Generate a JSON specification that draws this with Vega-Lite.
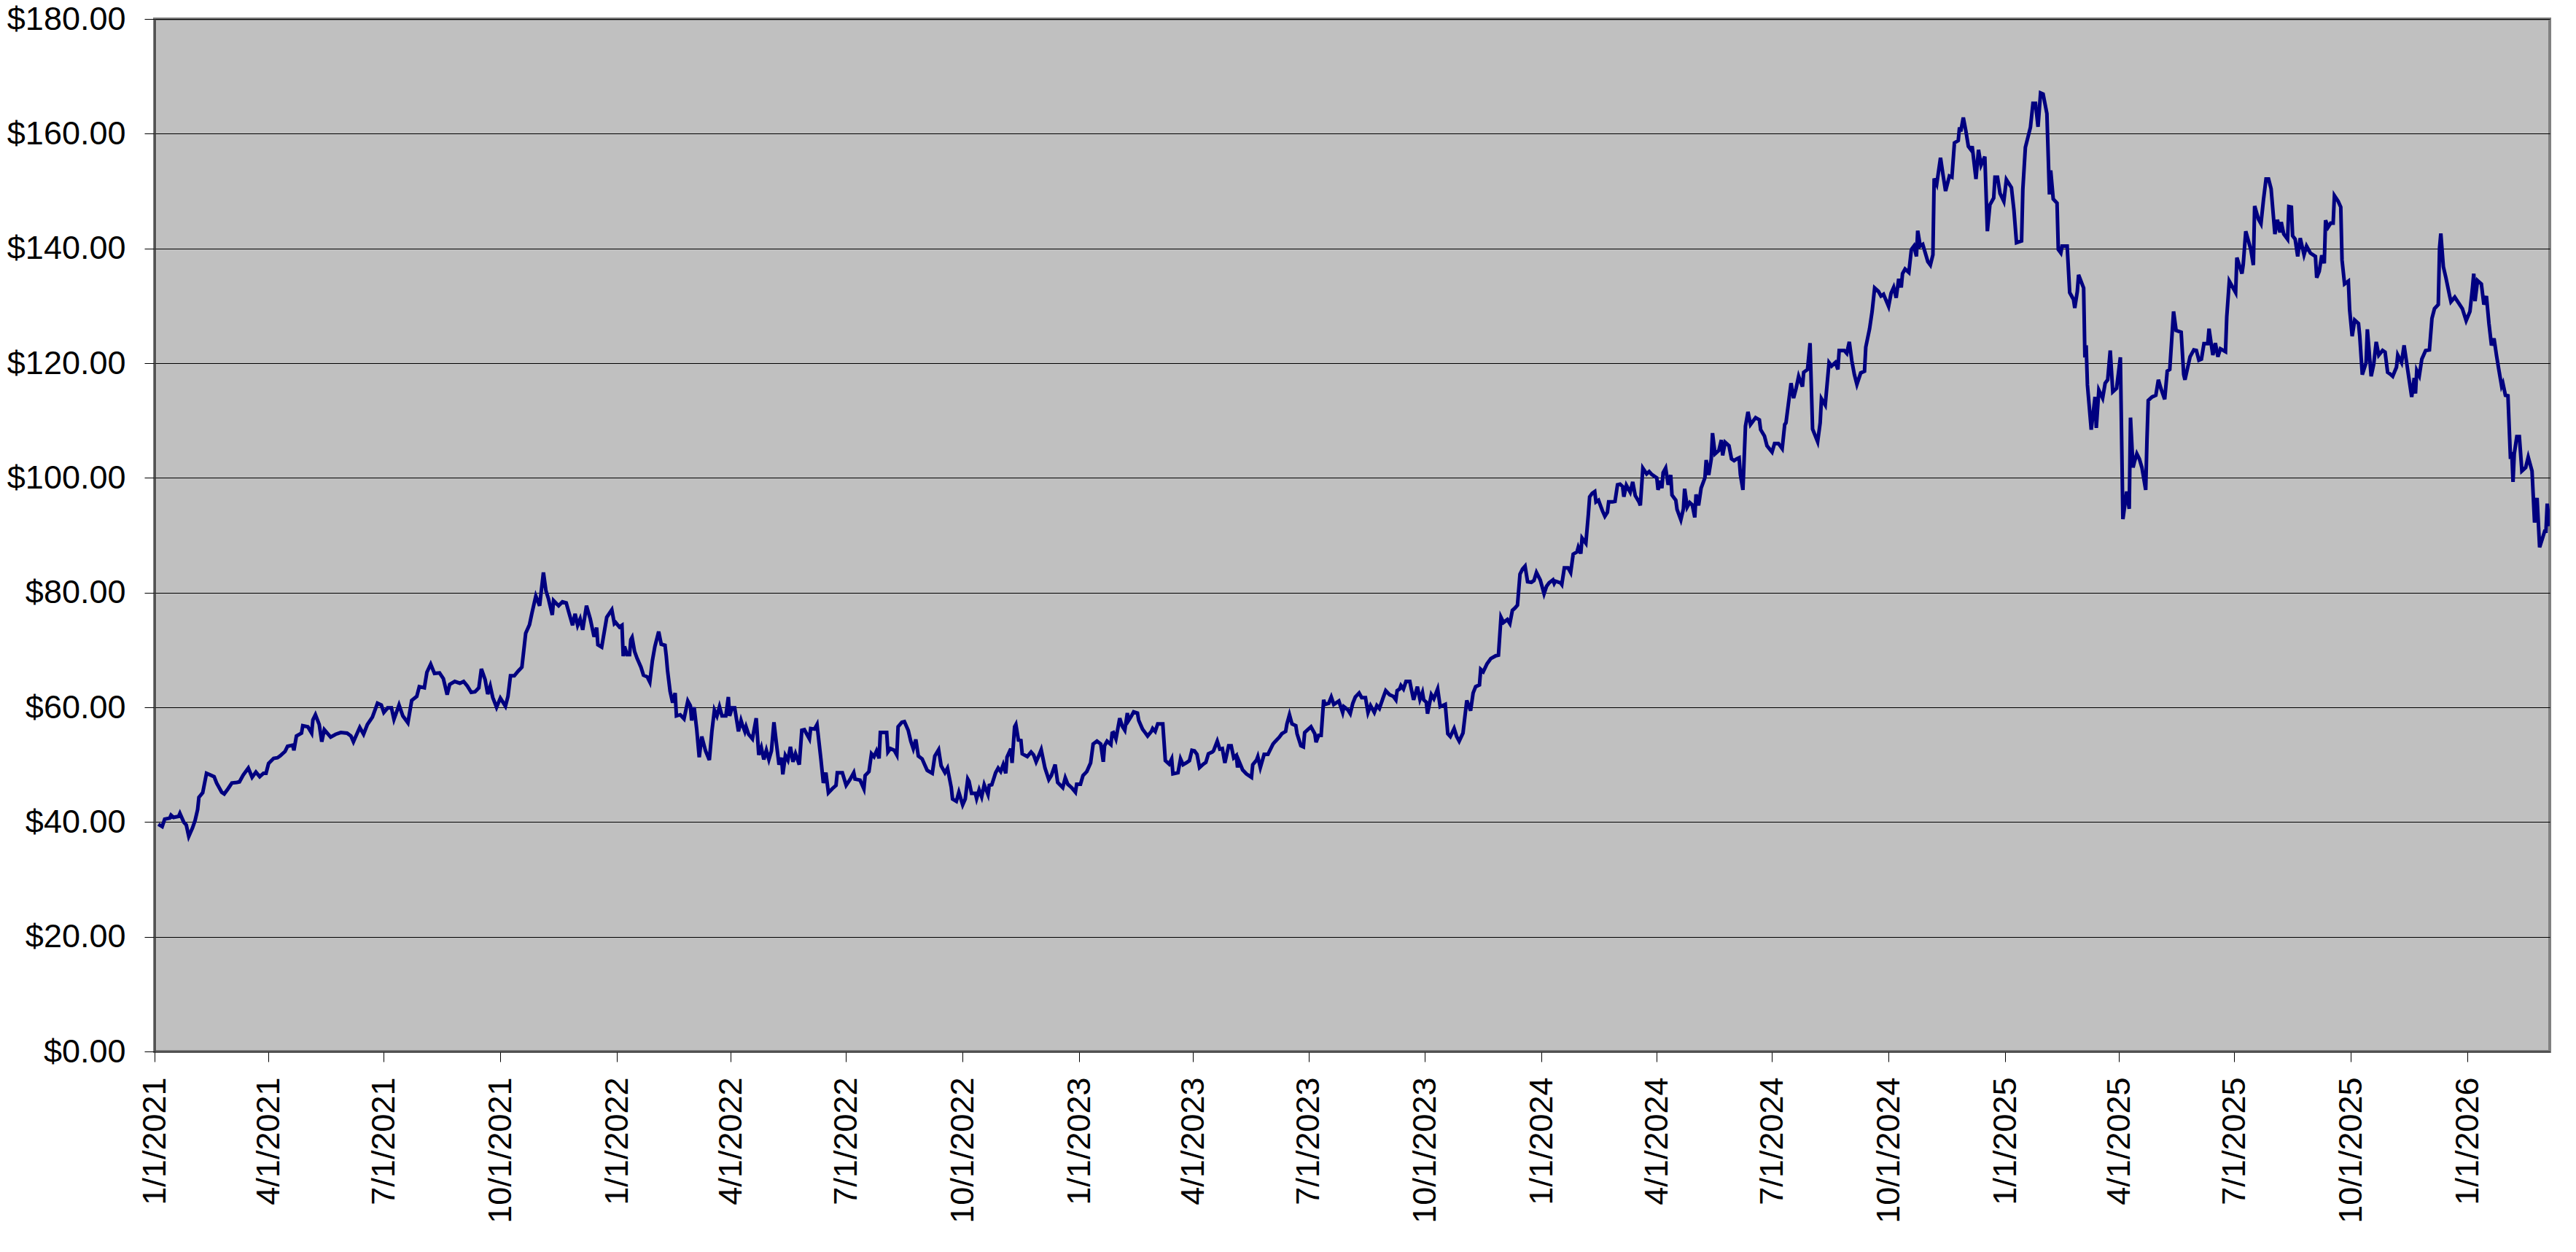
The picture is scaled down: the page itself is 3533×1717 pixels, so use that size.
{
"$schema": "https://vega.github.io/schema/vega-lite/v6.json",
"width": 3285,
"height": 1416,
"autosize": {"type": "none"},
"padding": {"left": 212, "top": 26, "right": 36, "bottom": 275},
"background": "white",
"config": {"view": {"fill": "#C0C0C0", "stroke": "#808080", "strokeWidth": 4}, "font": "Liberation Sans"},
"data": {"values": [
{"d":"2021-01-04","p":39.6},{"d":"2021-01-07","p":39.2},{"d":"2021-01-09","p":40.5},{"d":"2021-01-13","p":40.7},{"d":"2021-01-14","p":41.2},{"d":"2021-01-16","p":40.8},{"d":"2021-01-20","p":41.0},{"d":"2021-01-21","p":41.5},{"d":"2021-01-24","p":40.0},{"d":"2021-01-26","p":39.5},{"d":"2021-01-28","p":37.5},{"d":"2021-01-31","p":39.0},
{"d":"2021-02-02","p":40.3},{"d":"2021-02-04","p":42.2},{"d":"2021-02-05","p":44.3},{"d":"2021-02-08","p":45.1},{"d":"2021-02-11","p":48.5},{"d":"2021-02-14","p":48.2},{"d":"2021-02-17","p":47.9},{"d":"2021-02-19","p":46.8},{"d":"2021-02-23","p":45.2},{"d":"2021-02-25","p":44.9},{"d":"2021-02-28","p":45.8},
{"d":"2021-03-03","p":46.8},{"d":"2021-03-07","p":46.9},{"d":"2021-03-09","p":47.0},{"d":"2021-03-12","p":48.2},{"d":"2021-03-16","p":49.4},{"d":"2021-03-19","p":47.8},{"d":"2021-03-22","p":48.7},{"d":"2021-03-25","p":47.9},{"d":"2021-03-28","p":48.5},{"d":"2021-03-30","p":48.5},
{"d":"2021-04-01","p":50.2},{"d":"2021-04-05","p":51.1},{"d":"2021-04-08","p":51.2},{"d":"2021-04-10","p":51.5},{"d":"2021-04-14","p":52.3},{"d":"2021-04-16","p":53.2},{"d":"2021-04-20","p":53.4},{"d":"2021-04-21","p":52.5},{"d":"2021-04-23","p":55.0},{"d":"2021-04-27","p":55.5},{"d":"2021-04-28","p":56.8},
{"d":"2021-05-02","p":56.6},{"d":"2021-05-05","p":55.5},{"d":"2021-05-06","p":57.8},{"d":"2021-05-08","p":58.7},{"d":"2021-05-11","p":57.0},{"d":"2021-05-13","p":54.0},{"d":"2021-05-15","p":56.1},{"d":"2021-05-20","p":54.8},{"d":"2021-05-24","p":55.3},{"d":"2021-05-28","p":55.6},
{"d":"2021-06-02","p":55.5},{"d":"2021-06-05","p":55.0},{"d":"2021-06-07","p":54.0},{"d":"2021-06-12","p":56.5},{"d":"2021-06-15","p":55.3},{"d":"2021-06-18","p":57.0},{"d":"2021-06-22","p":58.3},{"d":"2021-06-26","p":60.7},{"d":"2021-06-29","p":60.4},
{"d":"2021-07-01","p":59.1},{"d":"2021-07-04","p":59.9},{"d":"2021-07-07","p":59.9},{"d":"2021-07-09","p":57.9},{"d":"2021-07-13","p":60.4},{"d":"2021-07-16","p":58.5},{"d":"2021-07-20","p":57.3},{"d":"2021-07-23","p":61.2},{"d":"2021-07-27","p":61.9},{"d":"2021-07-29","p":63.6},
{"d":"2021-08-02","p":63.4},{"d":"2021-08-04","p":66.1},{"d":"2021-08-07","p":67.5},{"d":"2021-08-10","p":65.9},{"d":"2021-08-14","p":66.0},{"d":"2021-08-17","p":65.0},{"d":"2021-08-20","p":62.2},{"d":"2021-08-22","p":64.0},{"d":"2021-08-26","p":64.5},{"d":"2021-08-30","p":64.2},
{"d":"2021-09-02","p":64.5},{"d":"2021-09-05","p":63.7},{"d":"2021-09-08","p":62.6},{"d":"2021-09-11","p":62.7},{"d":"2021-09-14","p":63.4},{"d":"2021-09-16","p":66.7},{"d":"2021-09-19","p":64.8},{"d":"2021-09-21","p":62.3},{"d":"2021-09-23","p":63.7},{"d":"2021-09-25","p":61.7},{"d":"2021-09-28","p":60.0},
{"d":"2021-10-01","p":61.6},{"d":"2021-10-05","p":60.2},{"d":"2021-10-07","p":61.9},{"d":"2021-10-09","p":65.5},{"d":"2021-10-12","p":65.5},{"d":"2021-10-15","p":66.3},{"d":"2021-10-18","p":67.0},{"d":"2021-10-21","p":72.9},{"d":"2021-10-24","p":74.4},{"d":"2021-10-26","p":76.5},{"d":"2021-10-29","p":79.4},
{"d":"2021-11-01","p":77.7},{"d":"2021-11-04","p":83.5},{"d":"2021-11-06","p":80.3},{"d":"2021-11-08","p":78.9},{"d":"2021-11-11","p":76.1},{"d":"2021-11-12","p":78.6},{"d":"2021-11-16","p":77.7},{"d":"2021-11-19","p":78.4},{"d":"2021-11-22","p":78.2},{"d":"2021-11-24","p":76.6},{"d":"2021-11-27","p":74.3},{"d":"2021-11-29","p":76.3},
{"d":"2021-12-01","p":74.3},{"d":"2021-12-03","p":75.4},{"d":"2021-12-05","p":73.5},{"d":"2021-12-08","p":77.7},{"d":"2021-12-11","p":75.4},{"d":"2021-12-14","p":72.3},{"d":"2021-12-16","p":73.9},{"d":"2021-12-17","p":70.9},{"d":"2021-12-20","p":70.5},{"d":"2021-12-24","p":75.7},{"d":"2021-12-28","p":77.0},{"d":"2021-12-30","p":74.6},{"d":"2021-12-31","p":74.8},
{"d":"2022-01-03","p":74.0},{"d":"2022-01-05","p":74.3},{"d":"2022-01-06","p":68.9},{"d":"2022-01-07","p":70.6},{"d":"2022-01-09","p":69.2},{"d":"2022-01-11","p":69.2},{"d":"2022-01-12","p":71.8},{"d":"2022-01-13","p":72.2},{"d":"2022-01-15","p":69.7},{"d":"2022-01-17","p":68.5},{"d":"2022-01-20","p":67.0},{"d":"2022-01-22","p":65.6},{"d":"2022-01-25","p":65.3},{"d":"2022-01-27","p":64.4},{"d":"2022-01-29","p":68.1},{"d":"2022-01-31","p":70.6},
{"d":"2022-02-03","p":73.2},{"d":"2022-02-05","p":71.0},{"d":"2022-02-08","p":70.8},{"d":"2022-02-09","p":68.9},{"d":"2022-02-10","p":66.4},{"d":"2022-02-12","p":62.8},{"d":"2022-02-14","p":60.8},{"d":"2022-02-16","p":62.5},{"d":"2022-02-17","p":58.5},{"d":"2022-02-20","p":58.7},{"d":"2022-02-23","p":58.0},{"d":"2022-02-26","p":61.1},{"d":"2022-02-28","p":60.3},
{"d":"2022-03-01","p":57.7},{"d":"2022-03-03","p":60.0},{"d":"2022-03-05","p":56.2},{"d":"2022-03-07","p":51.3},{"d":"2022-03-09","p":54.9},{"d":"2022-03-12","p":52.4},{"d":"2022-03-15","p":50.8},{"d":"2022-03-17","p":55.8},{"d":"2022-03-19","p":59.5},{"d":"2022-03-21","p":58.5},{"d":"2022-03-23","p":60.1},{"d":"2022-03-25","p":58.5},{"d":"2022-03-28","p":58.5},{"d":"2022-03-30","p":61.8},{"d":"2022-03-31","p":58.5},
{"d":"2022-04-02","p":59.9},{"d":"2022-04-04","p":59.9},{"d":"2022-04-07","p":55.8},{"d":"2022-04-09","p":57.7},{"d":"2022-04-10","p":57.0},{"d":"2022-04-12","p":55.8},{"d":"2022-04-13","p":56.6},{"d":"2022-04-15","p":55.3},{"d":"2022-04-18","p":54.5},{"d":"2022-04-21","p":58.1},{"d":"2022-04-23","p":51.7},{"d":"2022-04-25","p":53.0},{"d":"2022-04-27","p":50.9},{"d":"2022-04-29","p":52.5},
{"d":"2022-05-01","p":50.9},{"d":"2022-05-03","p":52.4},{"d":"2022-05-05","p":57.4},{"d":"2022-05-07","p":53.6},{"d":"2022-05-09","p":50.0},{"d":"2022-05-11","p":51.2},{"d":"2022-05-12","p":48.3},{"d":"2022-05-14","p":51.6},{"d":"2022-05-16","p":50.8},{"d":"2022-05-18","p":53.1},{"d":"2022-05-20","p":50.5},{"d":"2022-05-22","p":51.9},{"d":"2022-05-25","p":50.0},{"d":"2022-05-27","p":56.0},{"d":"2022-05-29","p":56.1},
{"d":"2022-06-02","p":54.5},{"d":"2022-06-03","p":56.3},{"d":"2022-06-06","p":56.2},{"d":"2022-06-08","p":57.0},{"d":"2022-06-11","p":51.1},{"d":"2022-06-13","p":46.8},{"d":"2022-06-15","p":48.6},{"d":"2022-06-17","p":45.1},{"d":"2022-06-20","p":45.8},{"d":"2022-06-23","p":46.4},{"d":"2022-06-24","p":48.6},{"d":"2022-06-28","p":48.6},
{"d":"2022-07-01","p":46.4},{"d":"2022-07-04","p":47.4},{"d":"2022-07-07","p":48.6},{"d":"2022-07-08","p":47.5},{"d":"2022-07-12","p":47.3},{"d":"2022-07-15","p":45.8},{"d":"2022-07-16","p":48.1},{"d":"2022-07-19","p":48.8},{"d":"2022-07-21","p":51.9},{"d":"2022-07-23","p":51.4},{"d":"2022-07-25","p":52.4},{"d":"2022-07-27","p":51.1},{"d":"2022-07-28","p":55.6},
{"d":"2022-08-02","p":55.6},{"d":"2022-08-03","p":52.2},{"d":"2022-08-05","p":52.8},{"d":"2022-08-08","p":52.5},{"d":"2022-08-10","p":51.7},{"d":"2022-08-11","p":56.6},{"d":"2022-08-14","p":57.4},{"d":"2022-08-16","p":57.5},{"d":"2022-08-19","p":56.0},{"d":"2022-08-21","p":54.1},{"d":"2022-08-23","p":52.8},{"d":"2022-08-25","p":54.4},{"d":"2022-08-27","p":51.5},{"d":"2022-08-30","p":51.0},
{"d":"2022-09-01","p":50.0},{"d":"2022-09-03","p":49.0},{"d":"2022-09-07","p":48.5},{"d":"2022-09-09","p":51.5},{"d":"2022-09-12","p":52.6},{"d":"2022-09-14","p":49.8},{"d":"2022-09-17","p":48.6},{"d":"2022-09-19","p":49.4},{"d":"2022-09-22","p":46.0},{"d":"2022-09-23","p":44.0},{"d":"2022-09-26","p":43.6},{"d":"2022-09-28","p":45.2},
{"d":"2022-10-01","p":43.0},{"d":"2022-10-03","p":44.0},{"d":"2022-10-05","p":47.5},{"d":"2022-10-06","p":47.1},{"d":"2022-10-08","p":45.0},{"d":"2022-10-11","p":45.0},{"d":"2022-10-12","p":44.1},{"d":"2022-10-14","p":45.6},{"d":"2022-10-16","p":44.4},{"d":"2022-10-18","p":46.5},{"d":"2022-10-21","p":44.8},{"d":"2022-10-22","p":46.4},{"d":"2022-10-24","p":46.5},{"d":"2022-10-27","p":48.6},{"d":"2022-10-29","p":49.4},{"d":"2022-10-31","p":48.8},
{"d":"2022-11-02","p":50.0},{"d":"2022-11-04","p":48.5},{"d":"2022-11-05","p":51.3},{"d":"2022-11-08","p":52.8},{"d":"2022-11-09","p":50.3},{"d":"2022-11-11","p":56.6},{"d":"2022-11-12","p":57.0},{"d":"2022-11-14","p":54.3},{"d":"2022-11-16","p":54.2},{"d":"2022-11-17","p":51.9},{"d":"2022-11-21","p":51.4},{"d":"2022-11-24","p":52.2},{"d":"2022-11-26","p":51.7},{"d":"2022-11-28","p":50.5},{"d":"2022-11-30","p":51.5},
{"d":"2022-12-02","p":52.6},{"d":"2022-12-05","p":49.4},{"d":"2022-12-08","p":47.4},{"d":"2022-12-10","p":48.1},{"d":"2022-12-13","p":50.0},{"d":"2022-12-15","p":46.9},{"d":"2022-12-19","p":46.0},{"d":"2022-12-21","p":47.7},{"d":"2022-12-23","p":46.6},{"d":"2022-12-26","p":46.0},{"d":"2022-12-29","p":45.2},{"d":"2022-12-30","p":46.6},
{"d":"2023-01-02","p":46.6},{"d":"2023-01-04","p":48.1},{"d":"2023-01-07","p":48.8},{"d":"2023-01-10","p":50.3},{"d":"2023-01-12","p":53.6},{"d":"2023-01-15","p":54.1},{"d":"2023-01-18","p":53.6},{"d":"2023-01-20","p":50.5},{"d":"2023-01-21","p":53.3},{"d":"2023-01-23","p":54.1},{"d":"2023-01-26","p":53.5},{"d":"2023-01-27","p":55.5},{"d":"2023-01-28","p":55.6},{"d":"2023-01-30","p":54.5},
{"d":"2023-02-02","p":58.1},{"d":"2023-02-04","p":56.7},{"d":"2023-02-06","p":56.0},{"d":"2023-02-08","p":59.0},{"d":"2023-02-09","p":57.7},{"d":"2023-02-11","p":58.4},{"d":"2023-02-13","p":59.2},{"d":"2023-02-16","p":59.0},{"d":"2023-02-17","p":57.7},{"d":"2023-02-20","p":56.2},{"d":"2023-02-22","p":55.6},{"d":"2023-02-24","p":55.0},{"d":"2023-02-27","p":55.8},{"d":"2023-02-28","p":56.3},
{"d":"2023-03-02","p":55.8},{"d":"2023-03-04","p":57.1},{"d":"2023-03-08","p":57.1},{"d":"2023-03-10","p":50.7},{"d":"2023-03-13","p":50.1},{"d":"2023-03-15","p":51.0},{"d":"2023-03-16","p":48.4},{"d":"2023-03-20","p":48.6},{"d":"2023-03-22","p":51.0},{"d":"2023-03-24","p":50.0},{"d":"2023-03-27","p":50.4},{"d":"2023-03-29","p":50.7},{"d":"2023-03-31","p":52.5},
{"d":"2023-04-02","p":52.4},{"d":"2023-04-04","p":51.8},{"d":"2023-04-06","p":49.5},{"d":"2023-04-09","p":50.1},{"d":"2023-04-11","p":50.4},{"d":"2023-04-13","p":51.9},{"d":"2023-04-16","p":52.2},{"d":"2023-04-17","p":52.4},{"d":"2023-04-20","p":54.1},{"d":"2023-04-22","p":52.7},{"d":"2023-04-24","p":52.8},{"d":"2023-04-26","p":50.3},{"d":"2023-04-29","p":53.3},
{"d":"2023-05-01","p":53.3},{"d":"2023-05-03","p":51.2},{"d":"2023-05-05","p":51.6},{"d":"2023-05-06","p":49.5},{"d":"2023-05-07","p":50.7},{"d":"2023-05-10","p":49.1},{"d":"2023-05-13","p":48.4},{"d":"2023-05-17","p":47.8},{"d":"2023-05-18","p":50.0},{"d":"2023-05-21","p":50.8},{"d":"2023-05-22","p":51.4},{"d":"2023-05-24","p":49.5},{"d":"2023-05-27","p":51.8},{"d":"2023-05-30","p":51.8},
{"d":"2023-06-03","p":53.6},{"d":"2023-06-05","p":54.1},{"d":"2023-06-08","p":54.8},{"d":"2023-06-10","p":55.4},{"d":"2023-06-13","p":55.8},{"d":"2023-06-14","p":57.1},{"d":"2023-06-16","p":58.7},{"d":"2023-06-18","p":57.1},{"d":"2023-06-21","p":56.8},{"d":"2023-06-22","p":55.4},{"d":"2023-06-25","p":53.3},{"d":"2023-06-27","p":53.1},{"d":"2023-06-28","p":55.6},{"d":"2023-06-30","p":56.0},
{"d":"2023-07-03","p":56.6},{"d":"2023-07-06","p":55.4},{"d":"2023-07-07","p":53.9},{"d":"2023-07-09","p":55.1},{"d":"2023-07-11","p":55.1},{"d":"2023-07-13","p":61.3},{"d":"2023-07-14","p":60.5},{"d":"2023-07-17","p":60.7},{"d":"2023-07-19","p":61.8},{"d":"2023-07-21","p":60.5},{"d":"2023-07-25","p":61.1},{"d":"2023-07-28","p":59.1},{"d":"2023-07-29","p":60.1},
{"d":"2023-08-01","p":59.6},{"d":"2023-08-03","p":58.9},{"d":"2023-08-05","p":60.7},{"d":"2023-08-07","p":61.8},{"d":"2023-08-10","p":62.5},{"d":"2023-08-12","p":61.7},{"d":"2023-08-15","p":61.7},{"d":"2023-08-17","p":59.1},{"d":"2023-08-19","p":60.3},{"d":"2023-08-22","p":59.1},{"d":"2023-08-24","p":60.3},{"d":"2023-08-26","p":59.8},{"d":"2023-08-29","p":61.7},{"d":"2023-08-31","p":62.9},
{"d":"2023-09-03","p":62.2},{"d":"2023-09-06","p":61.9},{"d":"2023-09-08","p":61.3},{"d":"2023-09-09","p":62.9},{"d":"2023-09-11","p":63.2},{"d":"2023-09-12","p":63.8},{"d":"2023-09-14","p":63.2},{"d":"2023-09-16","p":64.5},{"d":"2023-09-19","p":64.5},{"d":"2023-09-20","p":63.4},{"d":"2023-09-22","p":61.3},{"d":"2023-09-25","p":63.6},{"d":"2023-09-27","p":61.4},{"d":"2023-09-29","p":62.6},{"d":"2023-09-30","p":61.3},
{"d":"2023-10-02","p":60.9},{"d":"2023-10-03","p":58.9},{"d":"2023-10-06","p":62.2},{"d":"2023-10-08","p":61.5},{"d":"2023-10-11","p":63.2},{"d":"2023-10-13","p":60.1},{"d":"2023-10-17","p":60.5},{"d":"2023-10-19","p":55.4},{"d":"2023-10-21","p":54.9},{"d":"2023-10-24","p":56.3},{"d":"2023-10-26","p":54.9},{"d":"2023-10-28","p":54.1},{"d":"2023-10-31","p":55.5},
{"d":"2023-11-03","p":61.2},{"d":"2023-11-06","p":59.4},{"d":"2023-11-08","p":62.5},{"d":"2023-11-10","p":63.6},{"d":"2023-11-13","p":63.9},{"d":"2023-11-14","p":66.6},{"d":"2023-11-16","p":66.2},{"d":"2023-11-19","p":67.6},{"d":"2023-11-22","p":68.5},{"d":"2023-11-26","p":69.0},{"d":"2023-11-28","p":69.1},{"d":"2023-11-30","p":75.7},
{"d":"2023-12-02","p":74.8},{"d":"2023-12-05","p":75.3},{"d":"2023-12-07","p":74.6},{"d":"2023-12-09","p":76.9},{"d":"2023-12-11","p":77.3},{"d":"2023-12-13","p":77.8},{"d":"2023-12-15","p":83.2},{"d":"2023-12-17","p":84.1},{"d":"2023-12-19","p":84.6},{"d":"2023-12-21","p":81.9},{"d":"2023-12-24","p":81.8},{"d":"2023-12-26","p":82.1},{"d":"2023-12-28","p":83.5},{"d":"2023-12-31","p":82.2},
{"d":"2024-01-03","p":79.8},{"d":"2024-01-05","p":81.1},{"d":"2024-01-07","p":81.7},{"d":"2024-01-10","p":82.2},{"d":"2024-01-11","p":81.6},{"d":"2024-01-12","p":82.0},{"d":"2024-01-16","p":81.7},{"d":"2024-01-17","p":81.4},{"d":"2024-01-19","p":84.3},{"d":"2024-01-22","p":84.3},{"d":"2024-01-24","p":83.5},{"d":"2024-01-26","p":86.7},{"d":"2024-01-29","p":87.1},{"d":"2024-01-30","p":87.9},
{"d":"2024-02-01","p":86.8},{"d":"2024-02-02","p":89.5},{"d":"2024-02-05","p":88.6},{"d":"2024-02-07","p":93.7},{"d":"2024-02-08","p":96.7},{"d":"2024-02-10","p":97.3},{"d":"2024-02-12","p":97.6},{"d":"2024-02-13","p":95.8},{"d":"2024-02-15","p":96.1},{"d":"2024-02-18","p":94.3},{"d":"2024-02-20","p":93.3},{"d":"2024-02-22","p":94.0},{"d":"2024-02-23","p":95.8},{"d":"2024-02-26","p":95.8},{"d":"2024-02-28","p":95.9},
{"d":"2024-03-01","p":98.8},{"d":"2024-03-03","p":98.9},{"d":"2024-03-05","p":98.5},{"d":"2024-03-06","p":96.7},{"d":"2024-03-08","p":98.7},{"d":"2024-03-11","p":97.5},{"d":"2024-03-13","p":99.3},{"d":"2024-03-15","p":96.9},{"d":"2024-03-18","p":95.8},{"d":"2024-03-19","p":95.2},{"d":"2024-03-21","p":101.7},{"d":"2024-03-24","p":100.7},{"d":"2024-03-26","p":101.1},{"d":"2024-03-28","p":100.6},
{"d":"2024-04-01","p":100.0},{"d":"2024-04-02","p":97.9},{"d":"2024-04-04","p":99.5},{"d":"2024-04-05","p":98.2},{"d":"2024-04-06","p":100.9},{"d":"2024-04-08","p":101.7},{"d":"2024-04-10","p":98.8},{"d":"2024-04-12","p":100.5},{"d":"2024-04-13","p":97.0},{"d":"2024-04-16","p":96.1},{"d":"2024-04-17","p":94.5},{"d":"2024-04-20","p":92.7},{"d":"2024-04-22","p":94.6},{"d":"2024-04-23","p":98.1},{"d":"2024-04-25","p":94.9},{"d":"2024-04-27","p":95.7},{"d":"2024-04-29","p":95.3},
{"d":"2024-05-01","p":93.1},{"d":"2024-05-02","p":97.1},{"d":"2024-05-04","p":95.2},{"d":"2024-05-06","p":98.2},{"d":"2024-05-09","p":100.0},{"d":"2024-05-10","p":103.1},{"d":"2024-05-12","p":100.5},{"d":"2024-05-14","p":103.3},{"d":"2024-05-15","p":107.8},{"d":"2024-05-17","p":104.2},{"d":"2024-05-20","p":104.8},{"d":"2024-05-22","p":106.6},{"d":"2024-05-23","p":103.9},{"d":"2024-05-25","p":106.2},{"d":"2024-05-28","p":105.6},{"d":"2024-05-30","p":103.3},
{"d":"2024-06-01","p":103.0},{"d":"2024-06-03","p":103.3},{"d":"2024-06-05","p":103.5},{"d":"2024-06-06","p":100.6},{"d":"2024-06-08","p":97.9},{"d":"2024-06-10","p":109.0},{"d":"2024-06-12","p":111.5},{"d":"2024-06-14","p":109.3},{"d":"2024-06-18","p":110.5},{"d":"2024-06-21","p":110.1},{"d":"2024-06-22","p":108.4},{"d":"2024-06-25","p":107.3},{"d":"2024-06-27","p":105.6},
{"d":"2024-07-01","p":104.5},{"d":"2024-07-03","p":106.0},{"d":"2024-07-06","p":106.0},{"d":"2024-07-09","p":105.1},{"d":"2024-07-11","p":109.3},{"d":"2024-07-12","p":109.6},{"d":"2024-07-16","p":116.5},{"d":"2024-07-18","p":113.9},{"d":"2024-07-20","p":115.6},{"d":"2024-07-22","p":117.7},{"d":"2024-07-25","p":115.9},{"d":"2024-07-26","p":118.4},{"d":"2024-07-29","p":118.9},{"d":"2024-07-31","p":123.5},
{"d":"2024-08-02","p":108.5},{"d":"2024-08-06","p":106.3},{"d":"2024-08-08","p":109.6},{"d":"2024-08-09","p":113.8},{"d":"2024-08-12","p":112.7},{"d":"2024-08-15","p":120.1},{"d":"2024-08-17","p":119.5},{"d":"2024-08-20","p":120.1},{"d":"2024-08-22","p":118.9},{"d":"2024-08-23","p":122.2},{"d":"2024-08-27","p":122.2},{"d":"2024-08-29","p":121.7},{"d":"2024-08-31","p":123.7},
{"d":"2024-09-02","p":120.4},{"d":"2024-09-04","p":118.0},{"d":"2024-09-06","p":116.3},{"d":"2024-09-09","p":118.3},{"d":"2024-09-12","p":118.6},{"d":"2024-09-13","p":122.8},{"d":"2024-09-16","p":126.0},{"d":"2024-09-18","p":129.0},{"d":"2024-09-20","p":133.1},{"d":"2024-09-23","p":132.5},{"d":"2024-09-25","p":131.7},{"d":"2024-09-27","p":132.0},
{"d":"2024-10-01","p":129.9},{"d":"2024-10-03","p":132.2},{"d":"2024-10-05","p":133.2},{"d":"2024-10-07","p":131.4},{"d":"2024-10-09","p":134.7},{"d":"2024-10-11","p":133.2},{"d":"2024-10-12","p":135.6},{"d":"2024-10-14","p":136.4},{"d":"2024-10-17","p":135.8},{"d":"2024-10-19","p":139.8},{"d":"2024-10-21","p":140.4},{"d":"2024-10-23","p":138.6},{"d":"2024-10-24","p":143.1},{"d":"2024-10-26","p":140.4},{"d":"2024-10-28","p":140.7},{"d":"2024-10-30","p":139.2},
{"d":"2024-11-01","p":137.7},{"d":"2024-11-03","p":137.1},{"d":"2024-11-05","p":138.9},{"d":"2024-11-06","p":152.2},{"d":"2024-11-08","p":151.2},{"d":"2024-11-11","p":155.8},{"d":"2024-11-13","p":152.8},{"d":"2024-11-15","p":150.0},{"d":"2024-11-18","p":152.6},{"d":"2024-11-20","p":152.4},{"d":"2024-11-22","p":158.4},{"d":"2024-11-25","p":158.8},{"d":"2024-11-26","p":161.1},{"d":"2024-11-27","p":160.4},{"d":"2024-11-29","p":162.8},
{"d":"2024-12-01","p":160.5},{"d":"2024-12-03","p":157.8},{"d":"2024-12-05","p":157.2},{"d":"2024-12-06","p":157.8},{"d":"2024-12-09","p":152.1},{"d":"2024-12-11","p":157.2},{"d":"2024-12-13","p":154.5},{"d":"2024-12-16","p":156.0},{"d":"2024-12-18","p":143.0},{"d":"2024-12-20","p":147.6},{"d":"2024-12-23","p":148.8},{"d":"2024-12-24","p":152.4},{"d":"2024-12-26","p":152.4},{"d":"2024-12-28","p":149.6},{"d":"2024-12-31","p":148.2},
{"d":"2025-01-02","p":152.0},{"d":"2025-01-06","p":150.6},{"d":"2025-01-08","p":146.6},{"d":"2025-01-10","p":141.0},{"d":"2025-01-14","p":141.3},{"d":"2025-01-15","p":150.3},{"d":"2025-01-17","p":157.6},{"d":"2025-01-21","p":161.1},{"d":"2025-01-23","p":165.3},{"d":"2025-01-25","p":165.3},{"d":"2025-01-27","p":161.2},{"d":"2025-01-29","p":167.1},{"d":"2025-01-31","p":166.9},
{"d":"2025-02-03","p":163.5},{"d":"2025-02-05","p":149.4},{"d":"2025-02-06","p":153.6},{"d":"2025-02-08","p":148.6},{"d":"2025-02-11","p":147.9},{"d":"2025-02-12","p":139.8},{"d":"2025-02-14","p":139.2},{"d":"2025-02-15","p":140.4},{"d":"2025-02-19","p":140.4},{"d":"2025-02-21","p":132.3},{"d":"2025-02-24","p":131.1},{"d":"2025-02-25","p":129.6},{"d":"2025-02-27","p":132.5},{"d":"2025-02-28","p":135.4},
{"d":"2025-03-04","p":133.1},{"d":"2025-03-05","p":121.0},{"d":"2025-03-06","p":123.1},{"d":"2025-03-07","p":116.2},{"d":"2025-03-10","p":108.4},{"d":"2025-03-13","p":114.1},{"d":"2025-03-14","p":108.7},{"d":"2025-03-16","p":115.3},{"d":"2025-03-19","p":113.9},{"d":"2025-03-21","p":116.5},{"d":"2025-03-23","p":117.1},{"d":"2025-03-25","p":122.2},{"d":"2025-03-27","p":115.0},{"d":"2025-03-30","p":115.6},
{"d":"2025-04-02","p":121.0},{"d":"2025-04-04","p":92.8},{"d":"2025-04-07","p":97.6},{"d":"2025-04-09","p":94.6},{"d":"2025-04-10","p":110.5},{"d":"2025-04-12","p":101.8},{"d":"2025-04-13","p":102.7},{"d":"2025-04-15","p":104.2},{"d":"2025-04-17","p":103.3},{"d":"2025-04-19","p":101.8},{"d":"2025-04-22","p":97.9},{"d":"2025-04-23","p":106.6},{"d":"2025-04-24","p":113.5},{"d":"2025-04-27","p":114.1},{"d":"2025-04-30","p":114.4},
{"d":"2025-05-02","p":117.1},{"d":"2025-05-04","p":115.6},{"d":"2025-05-07","p":113.7},{"d":"2025-05-09","p":118.6},{"d":"2025-05-11","p":118.9},{"d":"2025-05-14","p":129.0},{"d":"2025-05-16","p":125.7},{"d":"2025-05-20","p":125.4},{"d":"2025-05-22","p":118.0},{"d":"2025-05-23","p":117.1},{"d":"2025-05-27","p":121.1},{"d":"2025-05-30","p":122.3},
{"d":"2025-06-01","p":122.2},{"d":"2025-06-03","p":120.5},{"d":"2025-06-05","p":120.7},{"d":"2025-06-07","p":123.4},{"d":"2025-06-10","p":123.4},{"d":"2025-06-11","p":126.0},{"d":"2025-06-14","p":121.4},{"d":"2025-06-16","p":123.5},{"d":"2025-06-18","p":121.1},{"d":"2025-06-20","p":122.5},{"d":"2025-06-24","p":122.0},{"d":"2025-06-25","p":128.1},{"d":"2025-06-27","p":134.3},{"d":"2025-06-29","p":133.5},
{"d":"2025-07-02","p":132.3},{"d":"2025-07-03","p":138.4},{"d":"2025-07-07","p":135.6},{"d":"2025-07-08","p":137.2},{"d":"2025-07-10","p":143.0},{"d":"2025-07-14","p":139.8},{"d":"2025-07-16","p":137.1},{"d":"2025-07-17","p":147.4},{"d":"2025-07-20","p":145.1},{"d":"2025-07-22","p":144.3},{"d":"2025-07-24","p":148.5},{"d":"2025-07-26","p":152.1},{"d":"2025-07-28","p":152.1},{"d":"2025-07-30","p":150.4},
{"d":"2025-08-02","p":142.5},{"d":"2025-08-04","p":145.0},{"d":"2025-08-06","p":142.8},{"d":"2025-08-07","p":144.6},{"d":"2025-08-09","p":142.5},{"d":"2025-08-12","p":141.6},{"d":"2025-08-13","p":147.3},{"d":"2025-08-15","p":147.2},{"d":"2025-08-16","p":142.2},{"d":"2025-08-18","p":141.6},{"d":"2025-08-20","p":138.6},{"d":"2025-08-22","p":141.8},{"d":"2025-08-25","p":138.9},{"d":"2025-08-27","p":140.4},{"d":"2025-08-30","p":139.2},
{"d":"2025-09-03","p":138.6},{"d":"2025-09-04","p":134.9},{"d":"2025-09-06","p":136.0},{"d":"2025-09-08","p":138.8},{"d":"2025-09-10","p":137.4},{"d":"2025-09-11","p":144.9},{"d":"2025-09-13","p":143.7},{"d":"2025-09-15","p":144.4},{"d":"2025-09-17","p":144.4},{"d":"2025-09-18","p":149.2},{"d":"2025-09-21","p":148.2},{"d":"2025-09-23","p":147.2},{"d":"2025-09-24","p":138.0},{"d":"2025-09-26","p":133.8},{"d":"2025-09-29","p":134.3},{"d":"2025-09-30","p":129.3},
{"d":"2025-10-02","p":124.7},{"d":"2025-10-04","p":127.5},{"d":"2025-10-07","p":126.9},{"d":"2025-10-08","p":124.7},{"d":"2025-10-10","p":118.0},{"d":"2025-10-13","p":120.1},{"d":"2025-10-14","p":125.9},{"d":"2025-10-17","p":117.7},{"d":"2025-10-19","p":119.8},{"d":"2025-10-21","p":123.7},{"d":"2025-10-23","p":121.4},{"d":"2025-10-26","p":122.2},{"d":"2025-10-28","p":121.9},{"d":"2025-10-30","p":118.4},
{"d":"2025-11-01","p":118.1},{"d":"2025-11-03","p":117.7},{"d":"2025-11-06","p":119.3},{"d":"2025-11-07","p":121.4},{"d":"2025-11-10","p":120.1},{"d":"2025-11-12","p":123.1},{"d":"2025-11-14","p":120.1},{"d":"2025-11-18","p":114.1},{"d":"2025-11-20","p":117.4},{"d":"2025-11-21","p":114.7},{"d":"2025-11-22","p":118.7},{"d":"2025-11-24","p":117.8},{"d":"2025-11-26","p":120.7},{"d":"2025-11-29","p":122.2},
{"d":"2025-12-02","p":122.3},{"d":"2025-12-04","p":127.8},{"d":"2025-12-06","p":129.5},{"d":"2025-12-09","p":130.2},{"d":"2025-12-10","p":140.1},{"d":"2025-12-11","p":142.6},{"d":"2025-12-13","p":136.8},{"d":"2025-12-15","p":134.9},{"d":"2025-12-18","p":131.7},{"d":"2025-12-19","p":130.7},{"d":"2025-12-22","p":131.5},{"d":"2025-12-25","p":130.5},{"d":"2025-12-28","p":129.5},{"d":"2025-12-31","p":127.4},
{"d":"2026-01-03","p":129.0},{"d":"2026-01-05","p":133.2},{"d":"2026-01-06","p":135.6},{"d":"2026-01-07","p":130.8},{"d":"2026-01-09","p":134.4},{"d":"2026-01-12","p":133.8},{"d":"2026-01-14","p":130.2},{"d":"2026-01-16","p":131.7},{"d":"2026-01-18","p":126.9},{"d":"2026-01-20","p":123.1},{"d":"2026-01-22","p":124.3},{"d":"2026-01-24","p":121.3},{"d":"2026-01-26","p":118.6},{"d":"2026-01-28","p":116.0},{"d":"2026-01-29","p":116.5},{"d":"2026-01-31","p":114.4},
{"d":"2026-02-02","p":114.3},{"d":"2026-02-04","p":103.3},{"d":"2026-02-05","p":104.5},{"d":"2026-02-06","p":99.3},{"d":"2026-02-07","p":104.2},{"d":"2026-02-09","p":107.2},{"d":"2026-02-11","p":107.2},{"d":"2026-02-13","p":101.2},{"d":"2026-02-16","p":101.8},{"d":"2026-02-18","p":103.6},{"d":"2026-02-21","p":101.2},{"d":"2026-02-23","p":92.2},{"d":"2026-02-25","p":96.5},{"d":"2026-02-27","p":87.9},
{"d":"2026-03-03","p":90.7},{"d":"2026-03-04","p":90.7},{"d":"2026-03-05","p":95.5},{"d":"2026-03-07","p":91.6}
]},
"mark": {"type": "line", "color": "#000080", "strokeWidth": 5, "clip": true},
"encoding": {
  "x": {
    "field": "d", "type": "temporal",
    "scale": {"type": "utc", "domain": [{"year": 2021, "month": 1, "date": 1, "utc": true}, {"year": 2026, "month": 3, "date": 7, "utc": true}]},
    "axis": {
      "title": null,
      "values": [
        {"year": 2021, "month": 1, "date": 1, "utc": true}, {"year": 2021, "month": 4, "date": 1, "utc": true}, {"year": 2021, "month": 7, "date": 1, "utc": true}, {"year": 2021, "month": 10, "date": 1, "utc": true},
        {"year": 2022, "month": 1, "date": 1, "utc": true}, {"year": 2022, "month": 4, "date": 1, "utc": true}, {"year": 2022, "month": 7, "date": 1, "utc": true}, {"year": 2022, "month": 10, "date": 1, "utc": true},
        {"year": 2023, "month": 1, "date": 1, "utc": true}, {"year": 2023, "month": 4, "date": 1, "utc": true}, {"year": 2023, "month": 7, "date": 1, "utc": true}, {"year": 2023, "month": 10, "date": 1, "utc": true},
        {"year": 2024, "month": 1, "date": 1, "utc": true}, {"year": 2024, "month": 4, "date": 1, "utc": true}, {"year": 2024, "month": 7, "date": 1, "utc": true}, {"year": 2024, "month": 10, "date": 1, "utc": true},
        {"year": 2025, "month": 1, "date": 1, "utc": true}, {"year": 2025, "month": 4, "date": 1, "utc": true}, {"year": 2025, "month": 7, "date": 1, "utc": true}, {"year": 2025, "month": 10, "date": 1, "utc": true},
        {"year": 2026, "month": 1, "date": 1, "utc": true}
      ],
      "labelExpr": "utcFormat(datum.value, '%-m/%-d/%Y')",
      "labelAngle": -90, "labelFontSize": 45, "labelColor": "#000000", "labelFont": "Liberation Sans",
      "labelPadding": 21, "labelOverlap": false, "labelFlush": false, "labelBound": false, "labelLimit": 0,
      "tickSize": 14, "tickColor": "#000000", "tickWidth": 1,
      "domainColor": "#404040", "domainWidth": 2, "grid": false
    }
  },
  "y": {
    "field": "p", "type": "quantitative",
    "scale": {"domain": [0, 180], "nice": false, "zero": true},
    "axis": {
      "title": null,
      "values": [0, 20, 40, 60, 80, 100, 120, 140, 160, 180],
      "format": "$,.2f",
      "labelFontSize": 45, "labelColor": "#000000", "labelFont": "Liberation Sans", "labelPadding": 26, "labelLimit": 0,
      "tickSize": 14, "tickColor": "#000000", "tickWidth": 1,
      "domainColor": "#404040", "domainWidth": 2,
      "grid": true, "gridColor": "#000000", "gridWidth": 1
    }
  }
}
}
